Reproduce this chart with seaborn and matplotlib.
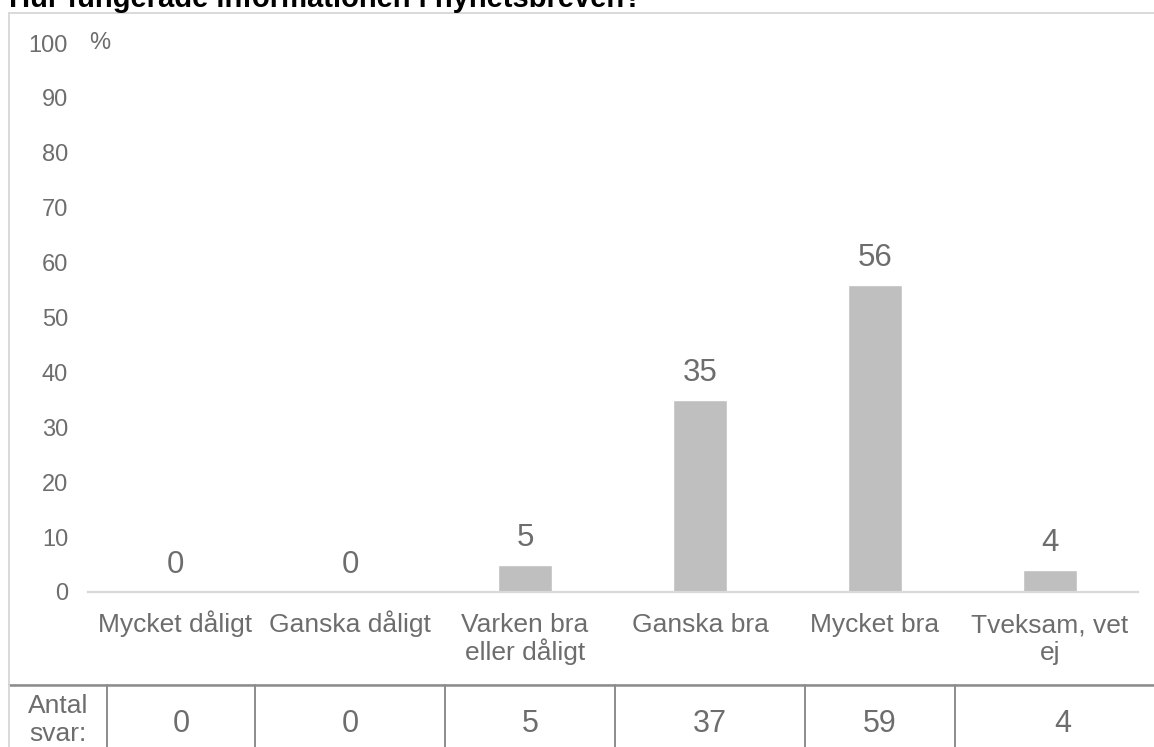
import matplotlib

matplotlib.use("Agg")
import matplotlib.pyplot as plt
import pandas as pd
import seaborn as sns
from matplotlib.lines import Line2D
from matplotlib.patches import Rectangle

# data
categories = [
    "Mycket dåligt",
    "Ganska dåligt",
    "Varken bra\neller dåligt",
    "Ganska bra",
    "Mycket bra",
    "Tveksam, vet\nej",
]
percent = [0, 0, 5, 35, 56, 4]
antal_svar = [0, 0, 5, 37, 59, 4]
y_ticks = [0, 10, 20, 30, 40, 50, 60, 70, 80, 90, 100]

title = "Hur fungerade informationen i nyhetsbreven?"
table_label = "Antal\nsvar:"

TEXT = "#6d6d6d"
BAR = "#bfbfbf"
FRAME = "#d9d9d9"
TABLE_LINE = "#8c8c8c"

W, H = 1154, 747
LINE_STEP = 28  # px between baselines of wrapped labels

sns.set_theme(style="white")
plt.rcParams["font.family"] = ["Liberation Sans", "DejaVu Sans"]

fig = plt.figure(figsize=(W / 100, H / 100), dpi=100)


def px(x, y):
    # pixel (from top-left) -> figure fraction
    return x / W, 1 - y / H


def pt(n_px):
    return n_px * 72 / 100


# axes: x from 87.5 to 1137.5 px, y=0 at 592 px, y=100 at 43 px
left, bottom = px(87.5, 592)
right, top = px(1137.5, 43)
ax = fig.add_axes([left, bottom, right - left, top - bottom])

df = pd.DataFrame({"kategori": categories, "procent": percent})
sns.barplot(
    data=df,
    x="kategori",
    y="procent",
    color=BAR,
    width=0.31,
    saturation=1,
    ax=ax,
)

ax.set_ylim(0, 100)
ax.set_xlim(-0.5, len(categories) - 0.5)
ax.set_yticks(y_ticks)
ax.set_xticks(range(len(categories)))
ax.set_xticklabels([])
ax.set_xlabel("")
ax.set_ylabel("")
ax.tick_params(axis="both", length=0, colors=TEXT)
ax.tick_params(axis="y", labelsize=17, pad=14)
for side in ["left", "right", "top"]:
    ax.spines[side].set_visible(False)
ax.spines["bottom"].set_color(FRAME)
ax.spines["bottom"].set_linewidth(1.6)
ax.patch.set_alpha(0)

# category labels, one text per line so every first line sits on one baseline
for i, cat in enumerate(categories):
    for k, line in enumerate(cat.split("\n")):
        ax.annotate(
            line,
            xy=(i, 0),
            xycoords=("data", "axes fraction"),
            xytext=(0, -pt(40 + k * LINE_STEP)),
            textcoords="offset points",
            ha="center",
            va="baseline",
            fontsize=19,
            color=TEXT,
        )

for i, v in enumerate(percent):
    ax.annotate(
        f"{v}",
        xy=(i, v),
        xytext=(0, pt(19)),
        textcoords="offset points",
        ha="center",
        va="baseline",
        fontsize=22.5,
        color=TEXT,
    )

ax.text(-0.49, 100, "%", ha="left", va="center", fontsize=17, color=TEXT)

# chart frame (right edge runs past the picture)
fx0, fy1 = px(9, 13)
fx1, fy0 = px(1160, 685)
fig.patches.append(
    Rectangle(
        (fx0, fy0),
        fx1 - fx0,
        fy1 - fy0,
        transform=fig.transFigure,
        fill=False,
        edgecolor=FRAME,
        linewidth=1.4,
        zorder=0,
    )
)

# title, clipped by the top edge as in the reference
tx, ty = px(9, 7)
fig.text(tx, ty, title, ha="left", va="baseline", fontsize=21,
         fontweight="bold", color="black")

# table row below the chart
col_edges = [9, 107, 255, 445, 615, 805, 955, 1170]
row_top = 685
lx0, ly = px(9, row_top)
lx1, _ = px(W, row_top)
fig.add_artist(Line2D([lx0, lx1], [ly, ly], color=TABLE_LINE, linewidth=1.8,
                      transform=fig.transFigure))
for j, xe in enumerate(col_edges[:-1]):
    x0, y0 = px(xe, row_top)
    _, y1 = px(xe, H + 5)
    fig.add_artist(Line2D([x0, x0], [y0, y1],
                          color=FRAME if j == 0 else TABLE_LINE,
                          linewidth=1.4, transform=fig.transFigure))

for k, line in enumerate(table_label.split("\n")):
    cx, cy = px(58, 713 + k * LINE_STEP)
    fig.text(cx, cy, line, ha="center", va="baseline", fontsize=19,
             color=TEXT)
for j, n in enumerate(antal_svar):
    cx, cy = px((col_edges[j + 1] + col_edges[j + 2]) / 2, 732)
    fig.text(cx, cy, f"{n}", ha="center", va="baseline", fontsize=22,
             color=TEXT)

fig.savefig("out.png", dpi=100)
